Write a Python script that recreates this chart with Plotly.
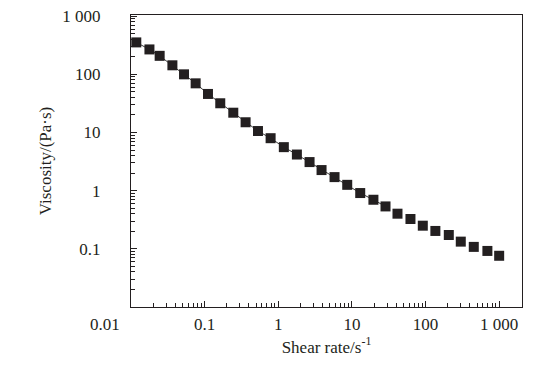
import plotly.graph_objects as go
import numpy as np

# Data
shear_rate = [0.0118, 0.0178, 0.0245, 0.0365, 0.0525, 0.0755, 0.111, 0.163, 0.245, 0.36,
              0.53, 0.787, 1.19, 1.79, 2.66, 3.87, 5.81, 8.64, 12.97, 19.6,
              28.6, 41.6, 62.4, 91.8, 136, 207, 301, 452, 692, 1000]
viscosity = [354, 268, 208, 143, 100, 70, 46, 31.8, 21.9, 15.0,
             10.6, 7.98, 5.6, 4.18, 3.10, 2.26, 1.71, 1.26, 0.91, 0.698,
             0.536, 0.402, 0.326, 0.250, 0.203, 0.173, 0.133, 0.108, 0.092, 0.076]
n_line = 21  # connecting line runs through the first points only

x_first_tick = 0.01
x_first_label = "0.01"
x_tickvals = [0.1, 1, 10, 100, 1000]
x_ticktext = ["0.1", "1", "10", "100", "1 000"]
y_tickvals = [0.1, 1, 10, 100, 1000]
y_ticktext = ["0.1", "1", "10", "100", "1 000"]

x_title = "Shear rate/s<sup>-1</sup>"
y_title = "Viscosity/(Pa·s)"

ink = "#231f20"
font_family = "Liberation Serif"

minor_vals = [k * 10.0 ** e for e in range(-3, 4) for k in range(2, 10)]

fig = go.Figure()
fig.add_trace(go.Scatter(x=shear_rate[:n_line], y=viscosity[:n_line], mode="lines",
                         line=dict(color="#3a3a3a", width=1), showlegend=False))
fig.add_trace(go.Scatter(x=shear_rate, y=viscosity, mode="markers",
                         marker=dict(symbol="square", size=10, color=ink, line=dict(width=0)),
                         showlegend=False))

axis_common = dict(
    type="log", showgrid=False, zeroline=False,
    showline=True, linecolor=ink, linewidth=1, mirror=True,
    ticks="inside", ticklen=6, tickwidth=1, tickcolor=ink,
    tickfont=dict(family=font_family, size=17, color=ink),
    ticklabeloverflow="allow",
    minor=dict(ticks="inside", ticklen=4, tickwidth=1, tickcolor=ink,
               tickmode="array", tickvals=minor_vals, showgrid=False),
)

fig.update_xaxes(**axis_common, range=[-2, 3.31], tickmode="array",
                 tickvals=x_tickvals, ticktext=x_ticktext, ticklabelstandoff=2,
                 title=dict(text=x_title, font=dict(family=font_family, size=17, color=ink), standoff=2))
fig.update_yaxes(**axis_common, range=[-2, 3.02], tickmode="array",
                 tickvals=y_tickvals, ticktext=y_ticktext, ticklabelstandoff=26,
                 title=dict(text=y_title, font=dict(family=font_family, size=17, color=ink), standoff=6))

fig.add_annotation(x=np.log10(x_first_tick), xref="x", y=0, yref="paper", text=x_first_label,
                   showarrow=False, xshift=-26, yshift=-17, yanchor="middle",
                   font=dict(family=font_family, size=17, color=ink))

# page body has an 8px default margin: size the figure to the visible area
fig.update_layout(
    width=540, height=357,
    margin=dict(l=123, r=26, t=7, b=58, autoexpand=False),
    paper_bgcolor="white", plot_bgcolor="white",
    font=dict(family=font_family, size=17, color=ink),
)

fig.write_html("out.html")
